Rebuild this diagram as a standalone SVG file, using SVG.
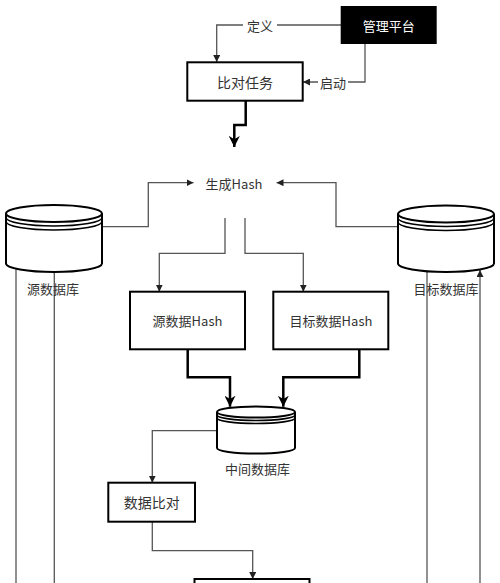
<svg xmlns="http://www.w3.org/2000/svg" width="500" height="583" viewBox="0 0 500 583">
<style>
.t{font-family:"Noto Sans CJK SC","Liberation Sans",sans-serif;font-size:13px;fill:#333;text-anchor:middle;dominant-baseline:central}
.box{fill:#fff;stroke:#000;stroke-width:2}
.db{fill:#fff;stroke:#000;stroke-width:2}
.dbl{fill:none;stroke:#000;stroke-width:1.6}
.thin{fill:none;stroke:#555;stroke-width:1.3}
.thick{fill:none;stroke:#000;stroke-width:2.5}
</style>
<defs>
<marker id="a" viewBox="0 0 10 10" refX="10" refY="5" markerWidth="7" markerHeight="7" markerUnits="userSpaceOnUse" orient="auto"><path d="M0,0 L10,5 L0,10 Z" fill="#222"/></marker>
<marker id="b" viewBox="0 0 10 10" refX="10" refY="5" markerWidth="11" markerHeight="11" markerUnits="userSpaceOnUse" orient="auto"><path d="M0,0 L10,5 L0,10 L3,5 Z" fill="#000"/></marker>
</defs>
<rect width="500" height="583" fill="#fff"/>
<g id="connectors">
<path class="thin" d="M341,25 H216.7 V62" marker-end="url(#a)"/>
<path class="thin" d="M365,44 V82 H303" marker-end="url(#a)"/>
<path class="thick" d="M245.7,101 V125 H234.3 V147" marker-end="url(#b)"/>
<path class="thin" d="M102,226.7 H148.3 V182.7 H193.5" marker-end="url(#a)"/>
<path class="thin" d="M398,226.7 H336 V182.7 H276.5" marker-end="url(#a)"/>
<path class="thin" d="M225,218 V253.3 H159.3 V291.7" marker-end="url(#a)"/>
<path class="thin" d="M245,218 V253.3 H303.3 V291.7" marker-end="url(#a)"/>
<path class="thick" d="M187.7,350 V377.3 H230 V406.7" marker-end="url(#b)"/>
<path class="thick" d="M359.3,350 V377.3 H283.3 V406.7" marker-end="url(#b)"/>
<path class="thin" d="M217,430.7 H152.3 V482.7" marker-end="url(#a)"/>
<path class="thin" d="M152.3,522 V550.7 H252.7 V579" marker-end="url(#a)"/>
<path class="thin" d="M16,268.5 V583"/>
<path class="thin" d="M54.3,272 V583"/>
<path class="thin" d="M427,271 V583"/>
<path class="thin" d="M480,583 V270" marker-end="url(#a)"/>
<rect x="243" y="16" width="34" height="18" fill="#fff"/>
<text class="t" x="260" y="25">定义</text>
<rect x="318" y="73" width="30" height="18" fill="#fff"/>
<text class="t" x="333" y="82">启动</text>
</g>
<g id="mgmt">
<rect x="340.7" y="6" width="96" height="38" fill="#000"/>
<text class="t" x="388.7" y="25" style="fill:#fff">管理平台</text>
</g>
<g id="task">
<rect class="box" x="187.3" y="62.3" width="115.4" height="38.4"/>
<text class="t" x="245" y="82" style="font-size:14px">比对任务</text>
</g>
<g id="genhash">
<text class="t" x="234" y="183">生成Hash</text>
</g>
<g id="srcdb">
<path class="db" d="M6,213.5 V263.5 A48,8.5 0 0 0 102,263.5 V213.5"/>
<ellipse class="db" cx="54" cy="213.5" rx="48" ry="8.5"/>
<path class="dbl" d="M6,217.5 A48,8.5 0 0 0 102,217.5"/>
<path class="dbl" d="M6,221.5 A48,8.5 0 0 0 102,221.5"/>
<text class="t" x="53" y="288">源数据库</text>
</g>
<g id="tgtdb">
<path class="db" d="M398,214 V263.5 A48,8.5 0 0 0 494,263.5 V214"/>
<ellipse class="db" cx="446" cy="214" rx="48" ry="8.5"/>
<path class="dbl" d="M398,218 A48,8.5 0 0 0 494,218"/>
<path class="dbl" d="M398,222 A48,8.5 0 0 0 494,222"/>
<text class="t" x="446" y="288">目标数据库</text>
</g>
<g id="srchash">
<rect class="box" x="130" y="291.7" width="115" height="57.6"/>
<text class="t" x="187.5" y="320.5">源数据Hash</text>
</g>
<g id="tgthash">
<rect class="box" x="273.3" y="291.7" width="115" height="57.6"/>
<text class="t" x="331" y="320.5">目标数据Hash</text>
</g>
<g id="middb">
<path class="db" d="M217,412 V448 A39,5.5 0 0 0 295,448 V412"/>
<ellipse class="db" cx="256" cy="412" rx="39" ry="5.5"/>
<path class="dbl" d="M217,415 A39,5.5 0 0 0 295,415"/>
<path class="dbl" d="M217,418 A39,5.5 0 0 0 295,418"/>
<text class="t" x="257.5" y="468.5">中间数据库</text>
</g>
<g id="compare">
<rect class="box" x="108.3" y="482.7" width="86.7" height="39"/>
<text class="t" x="151.7" y="502" style="font-size:14px">数据比对</text>
</g>
<g id="result">
<rect class="box" x="194.5" y="579" width="115" height="30"/>
</g>
</svg>
